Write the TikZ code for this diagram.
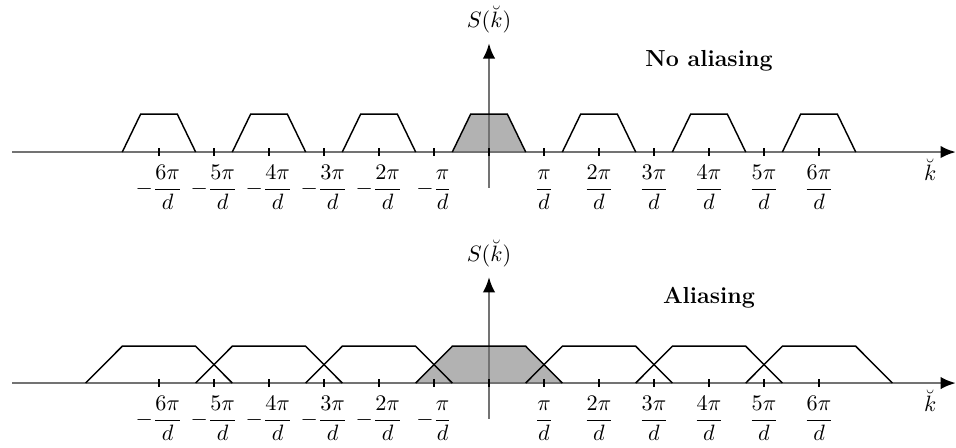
\RequirePackage{fix-cm}
\documentclass[tikz,border=0pt]{standalone}
\usepackage{amsmath}
\usepackage{tikz}
\usetikzlibrary{arrows.meta}

\begin{document}
\begin{tikzpicture}[
  axis/.style={draw=black!55, line width=1.4pt,
    -{Latex[color=black, length=8pt, width=6.5pt]}},
  spec/.style={draw=black, line width=0.75pt},
  base/.style={fill=black!30},
  tickmark/.style={draw=black, line width=0.8pt},
  lbl/.style={font=\fontsize{11.5}{14}\selectfont},
  title/.style={font=\large\bfseries}
]
\useasboundingbox (-8.89,-5.364) rectangle (8.49,2.764);

% one panel per case: height, bottom/top half widths, title
\foreach \yy/\bw/\tw/\hh/\ttl/\tb/\vt [count=\i] in
  {0/0.667/0.333/0.69/No aliasing/1.55/1.98,
   -4.2/1.333/0.667/0.67/Aliasing/1.45/1.93}
{
\begin{scope}[yshift=\yy cm]
  % baseband copy
  \fill[base] (-\bw,0) -- (-\tw,\hh) -- (\tw,\hh) -- (\bw,0) -- cycle;

  % axes
  \coordinate (l\i) at (-8.67,0);
  \coordinate (r\i) at (8.49,0);
  \coordinate (b\i) at (0,-0.65);
  \coordinate (t\i) at (0,\vt);
  \draw[axis] (l\i) -- (r\i);
  \draw[axis] (b\i) -- (t\i) node[lbl, above=1pt] (s\i) {$S(\breve{k})$};
  \node[lbl, anchor=base] (k\i) at (8.02,-0.51) {$\breve{k}$};

  % spectral replicas
  \foreach \c in {-6,-4,...,6}
    \draw[spec] (\c-\bw,0) -- (\c-\tw,\hh) -- (\c+\tw,\hh) -- (\c+\bw,0);

  % ticks and labels
  \foreach \k in {-6,...,6}
    \draw[tickmark] (\k,-0.065) -- (\k,0.065);
  \foreach \k/\t in {1/\pi,2/2\pi,3/3\pi,4/4\pi,5/5\pi,6/6\pi} {
    \node[lbl, anchor=base] (pos\i\k) at (\k,-0.775) {$\dfrac{\t}{d}$};
    \node[lbl, anchor=base] (neg\i\k) at (-\k,-0.775) {$-\dfrac{\t}{d}$};
  }

  \node[title, anchor=base] (ttl\i) at (4,\tb) {\ttl};
\end{scope}
}

\end{tikzpicture}
\end{document}
